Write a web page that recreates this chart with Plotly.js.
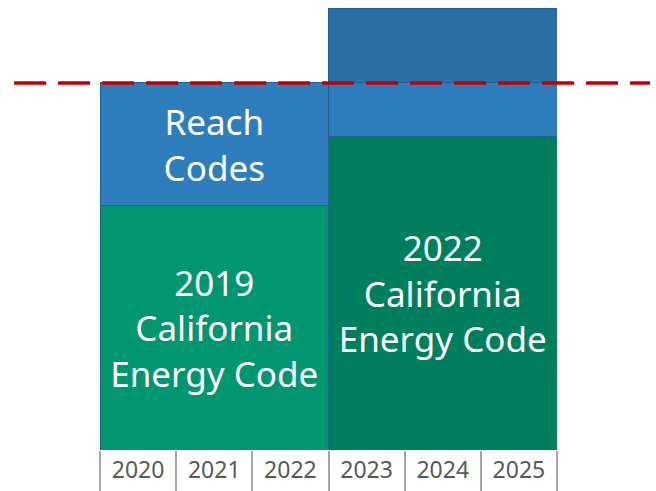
<!DOCTYPE html>
<html>
<head>
<meta charset="utf-8">
<script src="https://cdn.plot.ly/plotly-3.0.1.min.js"></script>
<style>html,body{margin:0;padding:0;background:#fff;}#chart{width:656px;height:491px;}</style>
</head>
<body>
<div id="chart"></div>
<script>
// Data
const blockCenters = [2021, 2024];
const blockWidth = [3, 3];
const codeValues = [66.5, 85.5];
const reachValues = [33.5, 14.5];
const beyondValues = [0, 20.4];
const codeLabels = ["2019<br>California<br>Energy Code", "2022<br>California<br>Energy Code"];
const reachLabels = ["Reach<br>Codes", ""];
const years = [2020, 2021, 2022, 2023, 2024, 2025];
const yearLabels = ["2020", "2021", "2022", "2023", "2024", "2025"];
const boundaries = [2019.5, 2020.5, 2021.5, 2022.5, 2023.5, 2024.5, 2025.5];
const targetLevel = 100;

const FONT = "Noto Sans, Open Sans, sans-serif";
const outline = {color: "#22608f", width: 1};

const traces = [
  {
    type: "bar", x: blockCenters, y: codeValues, width: blockWidth,
    marker: {color: ["#009670", "#007f5f"], line: outline},
    text: codeLabels, textposition: "inside", insidetextanchor: "middle",
    textangle: 0, constraintext: "none",
    textfont: {color: "#ffffff", size: 35, family: FONT},
    hoverinfo: "skip"
  },
  {
    type: "bar", x: blockCenters, y: reachValues, width: blockWidth,
    marker: {color: ["#2e7ebe", "#2e7ebe"], line: outline},
    text: reachLabels, textposition: "inside", insidetextanchor: "middle",
    textangle: 0, constraintext: "none",
    textfont: {color: "#ffffff", size: 35, family: FONT},
    hoverinfo: "skip"
  },
  {
    type: "bar", x: blockCenters, y: beyondValues, width: blockWidth,
    marker: {color: ["#296ea5", "#296ea5"], line: outline},
    hoverinfo: "skip"
  },
  {
    type: "scatter", x: years, y: [null, null, null, null, null, null],
    xaxis: "x2", showlegend: false, hoverinfo: "skip"
  }
];

const layout = {
  width: 656, height: 491,
  margin: {l: 100, r: 99, t: 8, b: 41},
  paper_bgcolor: "#ffffff", plot_bgcolor: "#ffffff",
  barmode: "stack", bargap: 0,
  showlegend: false,
  xaxis: {
    range: [2019.5, 2025.5], tickvals: years, ticktext: yearLabels,
    ticks: "", showgrid: false, zeroline: false, showline: false,
    tickfont: {color: "#595959", size: 23, family: FONT},
    ticklabelstandoff: 4, fixedrange: true
  },
  xaxis2: {
    overlaying: "x", side: "bottom", range: [2019.5, 2025.5],
    tickvals: boundaries, ticks: "outside", ticklen: 42, tickwidth: 2,
    tickcolor: "#a6a6a6", showticklabels: false, showgrid: false,
    zeroline: false, showline: false, fixedrange: true
  },
  yaxis: {
    range: [0, 120.4], visible: false, showgrid: false, zeroline: false, fixedrange: true
  },
  shapes: [
    {
      type: "line", xref: "paper", yref: "y",
      x0: -0.188, x1: 1.2035, y0: targetLevel, y1: targetLevel,
      line: {color: "#c00000", width: 3.5, dash: "32px,12px"}, layer: "above"
    }
  ]
};

Plotly.newPlot("chart", traces, layout, {displayModeBar: false, staticPlot: true});
</script>
</body>
</html>
